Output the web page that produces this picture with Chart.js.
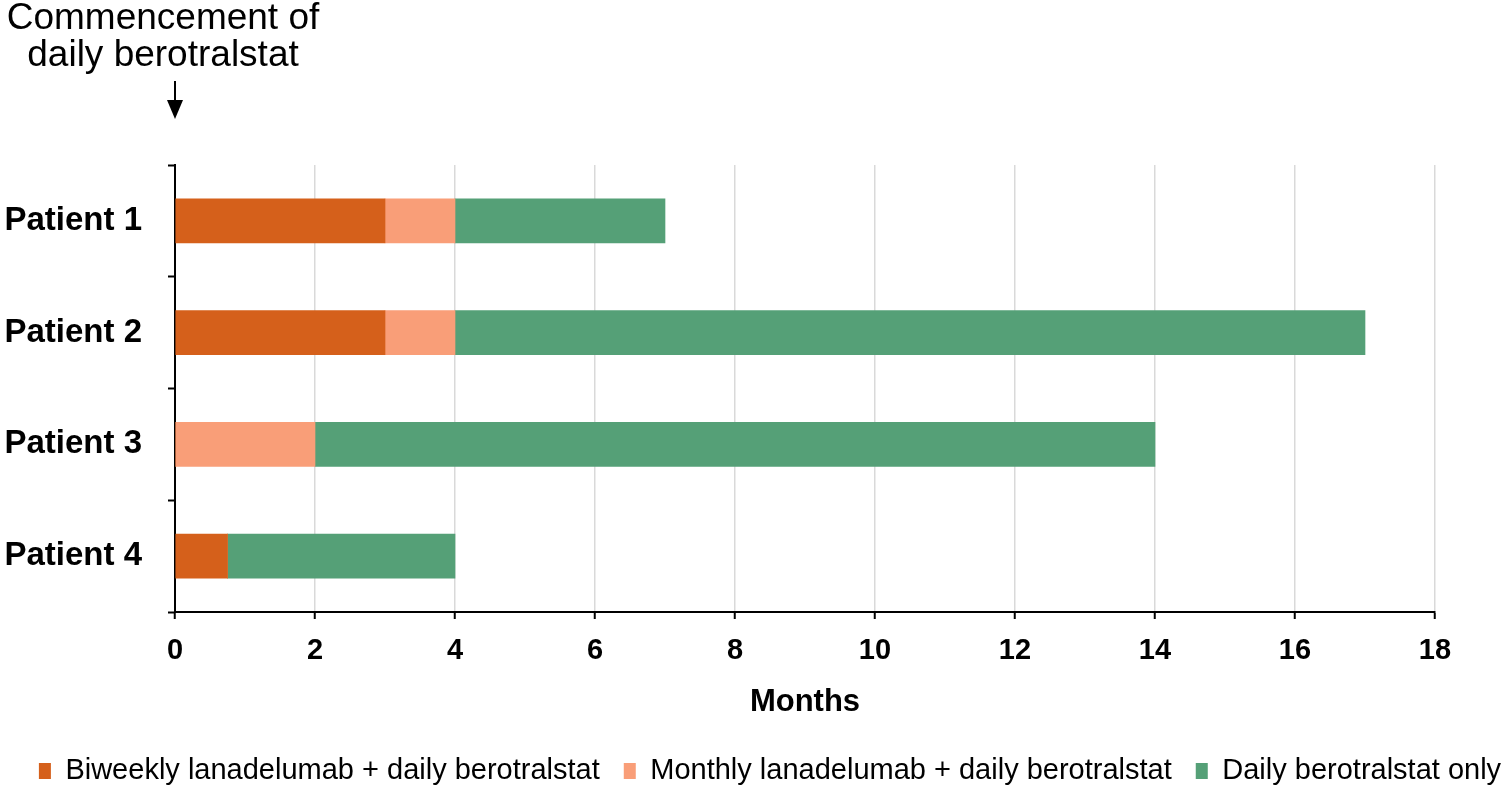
<!DOCTYPE html>
<html>
<head>
<meta charset="utf-8">
<script src="https://cdn.jsdelivr.net/npm/chart.js@4"></script>
<style>
  html, body { margin: 0; padding: 0; background: #fff; }
  canvas { display: block; }
</style>
</head>
<body>
<canvas id="c" width="1505" height="794"></canvas>
<script>
const categories = ["Patient 1", "Patient 2", "Patient 3", "Patient 4"];
const biweekly = [3, 3, 0, 0.75];
const monthly = [1, 1, 2, 0];
const dailyOnly = [3, 13, 12, 3.25];
const seriesNames = ["Biweekly lanadelumab + daily berotralstat", "Monthly lanadelumab + daily berotralstat", "Daily berotralstat only"];
const xTicks = [0, 2, 4, 6, 8, 10, 12, 14, 16, 18];
const annotationLines = ["Commencement of", "daily berotralstat"];

const FONT = "'Liberation Sans', Arial, sans-serif";
const PLOT_LEFT = 175;
const PLOT_BOTTOM = 612;
const LEFT_PAD = -120;
const LEGEND_CENTER_X = 770;
const LEGEND_CENTER_Y = 771;

const annotationPlugin = {
  id: 'annot',
  afterLayout(chart) {
    const lg = chart.legend;
    if (!lg) return;
    const curCenter = (lg.left + lg.right) / 2;
    const dx = LEGEND_CENTER_X - curCenter;
    lg.left += dx; lg.right += dx;
    const pad = lg.options.labels.padding;
    const fontSize = lg.options.labels.font.size;
    const itemH = Math.max(lg.options.labels.boxHeight, fontSize);
    const newTop = LEGEND_CENTER_Y - pad - itemH / 2;
    const dy = newTop - lg.top;
    lg.top += dy; lg.bottom += dy;
  },
  afterDraw(chart) {
    const ctx = chart.ctx;
    const x0 = chart.scales.x.getPixelForValue(0);
    ctx.save();
    ctx.fillStyle = '#000';
    ctx.font = "37px " + FONT;
    ctx.textAlign = 'center';
    ctx.textBaseline = 'middle';
    ctx.fillText(annotationLines[0], 163, 19);
    ctx.fillText(annotationLines[1], 163, 56);
    ctx.strokeStyle = '#000';
    ctx.lineWidth = 2;
    ctx.beginPath();
    ctx.moveTo(x0, 81);
    ctx.lineTo(x0, 102);
    ctx.stroke();
    ctx.beginPath();
    ctx.moveTo(x0 - 8, 100);
    ctx.lineTo(x0 + 8, 100);
    ctx.lineTo(x0, 119);
    ctx.closePath();
    ctx.fill();
    ctx.restore();
  }
};

new Chart(document.getElementById('c'), {
  type: 'bar',
  data: {
    labels: categories,
    datasets: [
      { label: seriesNames[0], data: biweekly, backgroundColor: '#D5601B' },
      { label: seriesNames[1], data: monthly, backgroundColor: '#F99E78' },
      { label: seriesNames[2], data: dailyOnly, backgroundColor: '#55A077' }
    ]
  },
  options: {
    indexAxis: 'y',
    responsive: false,
    animation: false,
    devicePixelRatio: 1,
    barThickness: 44,
    layout: { padding: { top: 165, right: 70, left: LEFT_PAD, bottom: 0 } },
    plugins: {
      tooltip: { enabled: false },
      legend: {
        position: 'bottom',
        labels: {
          color: '#000',
          font: { family: FONT, size: 29 },
          boxWidth: 12,
          boxHeight: 16,
          padding: 24
        }
      }
    },
    scales: {
      x: {
        stacked: true,
        min: 0,
        max: 18,
        afterBuildTicks(scale) { scale.ticks = xTicks.map(v => ({ value: v })); },
        ticks: {
          color: '#000',
          font: { family: FONT, size: 29, weight: 'bold' },
          padding: 15
        },
        grid: { color: '#d9d9d9', lineWidth: 1.5, tickColor: '#000', tickLength: 7, tickWidth: 2 },
        border: { color: '#000', width: 2 },
        title: {
          display: true,
          text: 'Months',
          color: '#000',
          font: { family: FONT, size: 31, weight: 'bold' },
          padding: { top: 0, bottom: 10 }
        },
        afterFit(scale) {
          const lg = scale.chart.legend;
          const lh = lg ? lg.height : 0;
          scale.height = 794 - PLOT_BOTTOM - lh;
        }
      },
      y: {
        stacked: true,
        ticks: {
          color: '#000',
          font: { family: FONT, size: 33, weight: 'bold' },
          padding: 26
        },
        grid: { drawOnChartArea: false, tickColor: '#000', tickLength: 7, tickWidth: 2 },
        border: { color: '#000', width: 2 },
        afterFit(scale) { scale.width = PLOT_LEFT - LEFT_PAD; }
      }
    }
  },
  plugins: [annotationPlugin]
});
</script>
</body>
</html>
